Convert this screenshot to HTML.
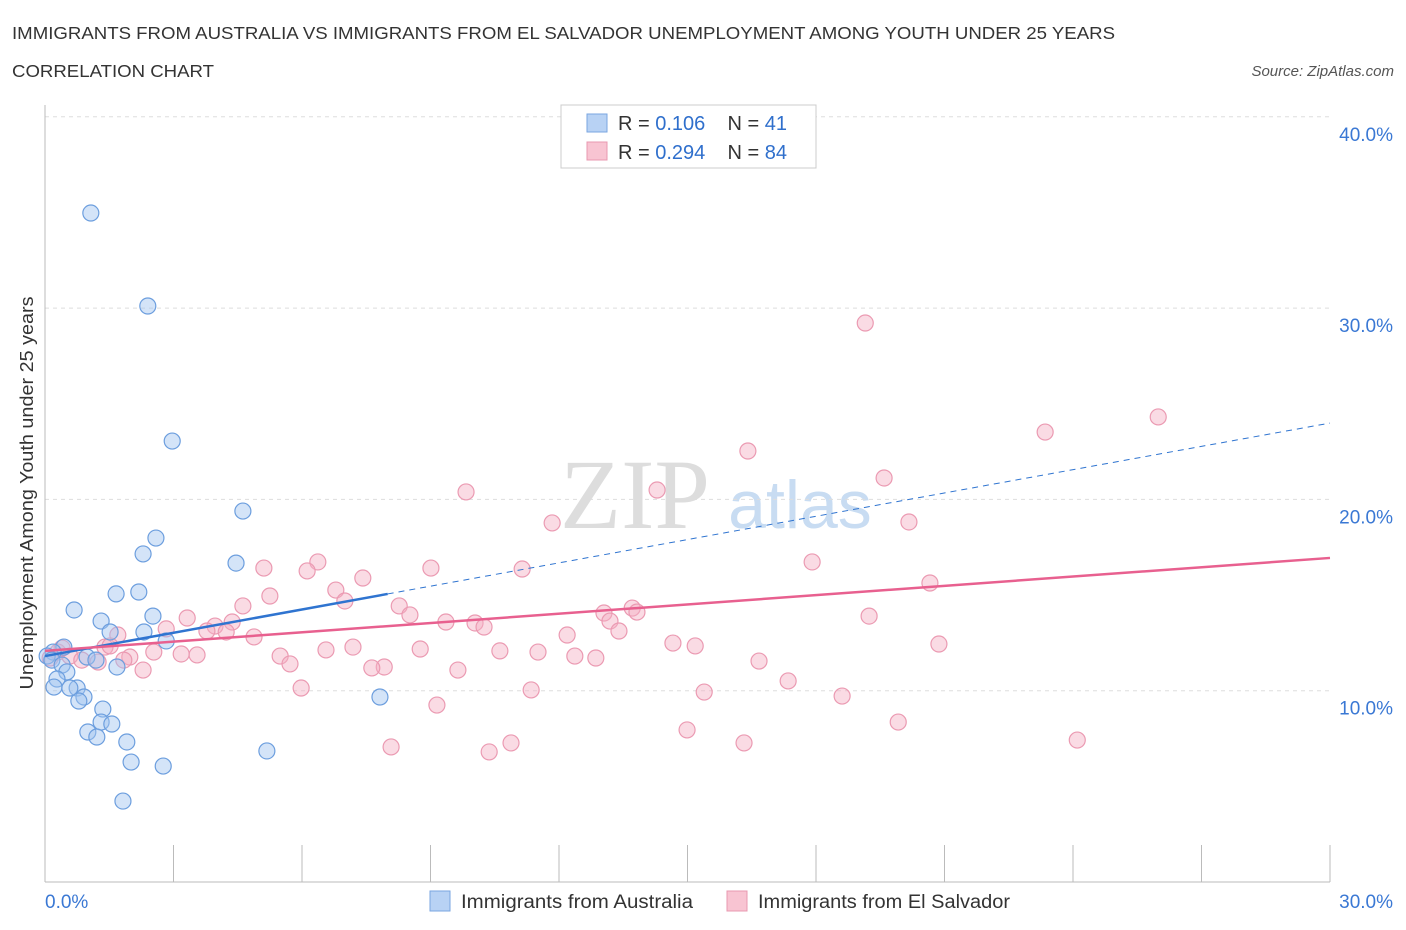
<!DOCTYPE html>
<html><head><meta charset="utf-8">
<style>
body{margin:0;background:#fff;font-family:"Liberation Sans",sans-serif;}
svg{display:block}
</style></head>
<body>
<svg id="chart" width="1406" height="930">
<text x="12" y="39" font-size="17.5" fill="#333" textLength="1103" lengthAdjust="spacingAndGlyphs">IMMIGRANTS FROM AUSTRALIA VS IMMIGRANTS FROM EL SALVADOR UNEMPLOYMENT AMONG YOUTH UNDER 25 YEARS</text>
<text x="12" y="77" font-size="17.5" fill="#333" textLength="202" lengthAdjust="spacingAndGlyphs">CORRELATION CHART</text>
<text x="1394" y="76" font-size="15" fill="#555" font-style="italic" text-anchor="end">Source: ZipAtlas.com</text>
<text x="635" y="528" font-size="100" fill="#ddd" font-family="Liberation Serif,serif" text-anchor="middle">ZIP</text>
<text x="800" y="528" font-size="68" fill="#c8dcf2" text-anchor="middle">atlas</text>
<text transform="translate(33,493) rotate(-90)" font-size="18" fill="#333" text-anchor="middle" textLength="393" lengthAdjust="spacingAndGlyphs">Unemployment Among Youth under 25 years</text>
<g id="grid"></g><g id="marks"></g>
<g>
<rect x="561" y="105" width="255" height="63" fill="#fff" stroke="#ccc"/>
<rect x="587" y="114" width="20" height="18" fill="#b8d2f4" stroke="#7aa6e0"/>
<rect x="587" y="142" width="20" height="18" fill="#f8c4d2" stroke="#e898b0"/>
<text x="618" y="130" font-size="20" fill="#333">R = <tspan fill="#2f6fcc">0.106</tspan>&#160;&#160;&#160;&#160;N = <tspan fill="#2f6fcc">41</tspan></text>
<text x="618" y="159" font-size="20" fill="#333">R = <tspan fill="#2f6fcc">0.294</tspan>&#160;&#160;&#160;&#160;N = <tspan fill="#2f6fcc">84</tspan></text>
</g>
<g>
<rect x="430" y="891" width="20" height="20" fill="#b8d2f4" stroke="#7aa6e0"/>
<text x="461" y="908" font-size="19" fill="#333" textLength="232" lengthAdjust="spacingAndGlyphs">Immigrants from Australia</text>
<rect x="727" y="891" width="20" height="20" fill="#f8c4d2" stroke="#e898b0"/>
<text x="758" y="908" font-size="19" fill="#333" textLength="252" lengthAdjust="spacingAndGlyphs">Immigrants from El Salvador</text>
</g>
</svg>
<script>
const xTickValues=[0,3,6,9,12,15,18,21,24,27,30];
const yTickValues=[10,20,30,40];
const yTickLabels=["10.0%","20.0%","30.0%","40.0%"];
const xEndLabels=["0.0%","30.0%"];
const ausX=[1.07,2.40,2.97,4.62,2.59,4.46,2.29,1.66,2.19,0.68,1.31,2.52,1.52,2.31,2.83,0.44,0.19,0.05,0.16,0.40,0.98,1.19,1.68,0.51,0.28,0.21,0.75,0.91,0.79,0.58,7.82,1.35,1.31,1.56,1.00,1.21,1.91,5.18,2.01,2.76,1.82];
const ausY=[34.97,30.11,23.05,19.39,17.98,16.67,17.15,15.06,15.16,14.22,13.64,13.90,13.07,13.07,12.60,12.28,12.02,11.81,11.60,11.34,11.76,11.60,11.24,10.98,10.61,10.19,10.14,9.67,9.46,10.14,9.67,9.04,8.36,8.26,7.84,7.58,7.32,6.85,6.27,6.06,4.23];
const salX=[19.15,25.99,23.35,16.41,19.59,9.83,14.29,20.17,11.84,17.91,6.37,5.11,9.01,6.12,11.14,7.42,20.66,6.79,5.25,4.62,7.00,8.27,8.52,13.05,13.71,13.82,3.32,4.37,3.97,2.83,9.36,10.04,10.25,13.19,19.24,3.78,4.23,13.40,1.70,12.19,1.40,4.88,14.66,15.18,7.19,6.56,8.76,20.87,10.62,11.51,2.54,3.18,3.55,1.98,12.37,12.86,5.49,0.30,0.58,1.24,5.72,16.67,7.92,7.63,2.29,9.64,0.86,1.84,17.35,5.98,11.35,15.39,18.61,9.15,19.92,14.99,24.10,10.88,16.32,8.08,10.37,0.40,1.52,0.12];
const salY=[29.22,24.31,23.52,22.53,21.12,20.39,20.49,18.82,18.77,16.73,16.73,16.41,16.41,16.26,16.36,15.89,15.63,15.26,14.95,14.43,14.69,14.43,13.96,14.06,14.32,14.11,13.80,13.59,13.38,13.23,13.59,13.54,13.33,13.64,13.90,13.12,13.07,13.12,12.91,12.91,12.28,12.81,12.49,12.34,12.28,12.13,12.18,12.44,12.08,12.02,12.02,11.92,11.87,11.76,11.81,11.71,11.81,12.02,11.81,11.50,11.40,11.55,11.24,11.19,11.08,11.08,11.60,11.60,10.51,10.14,10.04,9.93,9.72,9.25,8.36,7.95,7.42,7.27,7.27,7.06,6.80,12.23,12.34,11.71];
const ausTrend=[11.81,23.99];
const ausSolidEnd=8.0;
const salTrend=[12.08,16.94];

const NS="http://www.w3.org/2000/svg";
const X=v=>45+v*42.833;
const Y=v=>882-v*19.13;
function mk(t,a,p){const e=document.createElementNS(NS,t);for(const k in a)e.setAttribute(k,a[k]);p.appendChild(e);return e;}
const grid=document.getElementById('grid'),marks=document.getElementById('marks');
yTickValues.forEach((v,i)=>{
 const l=mk('line',{x1:45,x2:1330,y1:Y(v),y2:Y(v),stroke:'#ddd','stroke-dasharray':'4,4'},grid);
 
 
 const t=mk('text',{x:1393,y:Y(v)+24,'font-size':19,fill:'#3a78d4','text-anchor':'end'},grid);
 t.textContent=yTickLabels[i];
 
 
});
mk('line',{x1:45,x2:45,y1:105,y2:882,stroke:'#bbb'},grid);
mk('line',{x1:45,x2:1330,y1:882,y2:882,stroke:'#bbb'},grid);
xTickValues.forEach(v=>{
 const l=mk('line',{x1:X(v),x2:X(v),y1:845,y2:882,stroke:'#bbb'},grid);
 
 
});
[[0,'start',45],[30,'end',1393]].forEach((d,i)=>{
 const t=mk('text',{x:d[2],y:908,'font-size':19,fill:'#3a78d4','text-anchor':d[1]},grid);
 t.textContent=xEndLabels[i];
 
 
});
salX.forEach((x,i)=>{
 const c=mk('circle',{cx:X(x),cy:Y(salY[i]),r:8,fill:'rgba(245,175,195,0.45)',stroke:'#eb9ab2','stroke-width':1.2},marks);
 
 
});
ausX.forEach((x,i)=>{
 const c=mk('circle',{cx:X(x),cy:Y(ausY[i]),r:8,fill:'rgba(160,195,240,0.45)',stroke:'#6c9ede','stroke-width':1.2},marks);
 
 
});
const aAt=x=>ausTrend[0]+(ausTrend[1]-ausTrend[0])*x/30;
let l1=mk('line',{x1:X(0),y1:Y(aAt(0)),x2:X(ausSolidEnd),y2:Y(aAt(ausSolidEnd)),stroke:'#2f74d0','stroke-width':2.5},marks);


let l2=mk('line',{x1:X(ausSolidEnd),y1:Y(aAt(ausSolidEnd)),x2:X(30),y2:Y(aAt(30)),stroke:'#2f74d0','stroke-width':1,'stroke-dasharray':'6,5'},marks);


let l3=mk('line',{x1:X(0),y1:Y(salTrend[0]),x2:X(30),y2:Y(salTrend[1]),stroke:'#e8608f','stroke-width':2.5},marks);


</script>
</body></html>
